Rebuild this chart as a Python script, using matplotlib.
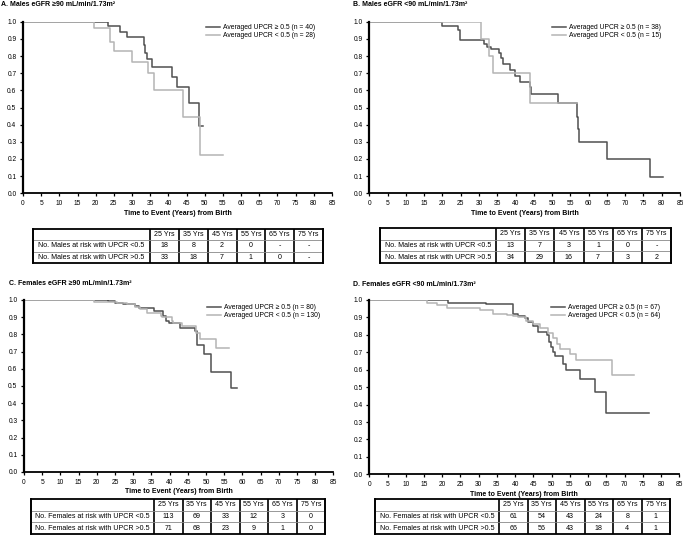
import numpy as np
import matplotlib
matplotlib.use('Agg')
import matplotlib.pyplot as plt

plt.rcParams['font.family'] = ['Liberation Sans', 'DejaVu Sans']

DARK = '#505050'
LIGHT = '#b4b4b4'

# ---- curve data (step points: time, survival) ----
a_hi_t = [0, 23.4, 26.7, 28.5, 33.3, 33.6, 34.0, 35.4, 40.9, 42.3, 45.7, 48.5, 49.6]
a_hi_s = [1.0, 0.977, 0.942, 0.909, 0.865, 0.82, 0.78, 0.734, 0.68, 0.617, 0.528, 0.394, 0.394]
a_lo_t = [0, 19.5, 23.9, 25.1, 30.0, 34.3, 36.1, 43.9, 48.7, 55.0]
a_lo_s = [1.0, 0.965, 0.88, 0.827, 0.767, 0.703, 0.60, 0.447, 0.223, 0.223]

b_hi_t = [0, 19.8, 24.4, 24.9, 31.4, 32.1, 33.2, 35.6, 36.0, 36.7, 38.5, 39.9, 41.2,
          44.0, 44.3, 51.5, 56.8, 57.2, 57.5, 65.1, 76.8, 80.3]
b_hi_s = [1.0, 0.977, 0.95, 0.895, 0.872, 0.855, 0.839, 0.82, 0.79, 0.751, 0.718, 0.683,
          0.65, 0.62, 0.577, 0.526, 0.447, 0.373, 0.297, 0.198, 0.097, 0.097]
b_lo_t = [0, 30.6, 32.8, 33.9, 44.0, 56.7]
b_lo_s = [1.0, 0.9, 0.8, 0.703, 0.524, 0.524]

c_hi_t = [0, 23.2, 25.0, 27.3, 30.5, 31.6, 35.7, 38.3, 39.0, 39.8, 42.9, 47.0, 47.6,
          49.5, 51.3, 56.8, 58.4]
c_hi_s = [1.0, 0.993, 0.985, 0.975, 0.965, 0.956, 0.935, 0.905, 0.88, 0.865, 0.837,
          0.82, 0.738, 0.687, 0.58, 0.487, 0.487]
c_lo_t = [0, 19.3, 23.8, 25.5, 28.4, 30.5, 31.9, 33.7, 37.6, 38.0, 40.6, 41.0, 43.3,
          47.3, 48.4, 52.9, 56.3]
c_lo_s = [1.0, 0.99, 0.987, 0.98, 0.975, 0.96, 0.945, 0.923, 0.905, 0.9, 0.88, 0.865,
          0.846, 0.81, 0.775, 0.719, 0.719]

d_hi_t = [0, 21.7, 31.9, 39.3, 40.9, 42.7, 43.6, 45.0, 46.3, 48.8, 49.4, 49.7, 50.5,
          50.9, 53.0, 53.9, 57.8, 61.9, 64.9, 76.8]
d_hi_s = [1.0, 0.985, 0.975, 0.918, 0.91, 0.895, 0.875, 0.85, 0.815, 0.80, 0.76, 0.73,
          0.70, 0.676, 0.63, 0.60, 0.547, 0.47, 0.353, 0.353]
d_lo_t = [0, 15.9, 18.5, 21.4, 30.3, 34.0, 37.7, 39.5, 40.9, 43.1, 45.0, 46.8, 49.1,
          50.5, 51.4, 52.3, 55.0, 56.7, 66.5, 72.7]
d_lo_s = [1.0, 0.985, 0.97, 0.956, 0.945, 0.922, 0.915, 0.91, 0.905, 0.88, 0.865, 0.84,
          0.81, 0.78, 0.75, 0.72, 0.69, 0.657, 0.567, 0.567]

# ---- at-risk tables ----
yrs = ['25 Yrs', '35 Yrs', '45 Yrs', '55 Yrs', '65 Yrs', '75 Yrs']
a_risk_lo = ['18', '8', '2', '0', '-', '-']
a_risk_hi = ['33', '18', '7', '1', '0', '-']
b_risk_lo = ['13', '7', '3', '1', '0', '-']
b_risk_hi = ['34', '29', '16', '7', '3', '2']
c_risk_lo = ['113', '69', '33', '12', '3', '0']
c_risk_hi = ['71', '68', '23', '9', '1', '0']
d_risk_lo = ['61', '54', '43', '24', '8', '1']
d_risk_hi = ['66', '56', '43', '18', '4', '1']

titles = ['A. Males eGFR \u226590 mL/min/1.73m\u00b2',
          'B. Males eGFR <90 mL/min/1.73m\u00b2',
          'C. Females eGFR \u226590 mL/min/1.73m\u00b2',
          'D. Females eGFR <90 mL/min/1.73m\u00b2']
ns = [(40, 28), (38, 15), (80, 130), (67, 64)]

W, H = 683, 543
fig = plt.figure(figsize=(W / 100, H / 100), dpi=100)


def fx(px):
    return px / W


def fy(py):
    return 1 - py / H


def km_axes(box, hi, lo, n, legpos):
    l, r, t, b = box
    ax = fig.add_axes([fx(l), fy(b), fx(r - l), (b - t) / H])
    ax.step(hi[0], hi[1], where='post', color=DARK, lw=1.1, label='Averaged UPCR \u2265 0.5 (n = %d)' % n[0])
    ax.step(lo[0], lo[1], where='post', color=LIGHT, lw=1.1, label='Averaged UPCR < 0.5 (n = %d)' % n[1])
    ax.set_xlim(0, 85)
    ax.set_ylim(0, 1.0)
    ax.set_xticks(np.arange(0, 86, 5))
    ax.set_yticks(np.arange(0, 1.01, 0.1))
    ax.set_yticklabels(['%.1f' % v for v in np.arange(0, 1.01, 0.1)])
    for s in ['top', 'right']:
        ax.spines[s].set_visible(False)
    ax.spines['left'].set_linewidth(1.6)
    ax.spines['bottom'].set_linewidth(1.3)
    ax.tick_params(labelsize=4.8, length=2.2, width=0.9, pad=2.5)
    ax.set_xlabel('Time to Event (Years) from Birth', fontsize=5, fontweight='bold', labelpad=2)
    ax.legend(loc='upper left', bbox_to_anchor=legpos, frameon=False, fontsize=4.9,
              handlelength=2.1, handletextpad=0.45, labelspacing=0.12,
              borderpad=0, borderaxespad=0)
    return ax


def risk_table(box, first_w, group, lo, hi):
    l, r, t, b = box
    tax = fig.add_axes([fx(l), fy(b), fx(r - l), (b - t) / H])
    tax.set_xticks([])
    tax.set_yticks([])
    for s in tax.spines.values():
        s.set_linewidth(1.3)
    cells = [[''] + yrs,
             ['No. %s at risk with UPCR <0.5' % group] + lo,
             ['No. %s at risk with UPCR >0.5' % group] + hi]
    fw = first_w / (r - l)
    cw = [fw] + [(1 - fw) / 6] * 6
    tb = tax.table(cellText=cells, colWidths=cw, cellLoc='center', bbox=[0, 0, 1, 1])
    tb.auto_set_font_size(False)
    tb.set_fontsize(5.1)
    for (i, j), c in tb.get_celld().items():
        c.visible_edges = 'LR'
        c.set_linewidth(1.2)
        c.set_edgecolor('#222222')
    for yy in [1 / 3, 2 / 3]:
        tax.axhline(yy, color='#888888', lw=0.6)
    return tax


km_axes((23, 332, 21.7, 193.3), (a_hi_t, a_hi_s), (a_lo_t, a_lo_s), ns[0], (0.591, 0.985))
km_axes((369.3, 680, 21.7, 193.3), (b_hi_t, b_hi_s), (b_lo_t, b_lo_s), ns[1], (0.588, 0.985))
km_axes((24, 333.3, 300, 472), (c_hi_t, c_hi_s), (c_lo_t, c_lo_s), ns[2], (0.592, 0.975))
km_axes((369.3, 679.3, 300, 474.3), (d_hi_t, d_hi_s), (d_lo_t, d_lo_s), ns[3], (0.586, 0.975))

risk_table((33, 323, 229, 263), 117, 'Males', a_risk_lo, a_risk_hi)
risk_table((380, 671, 228, 263), 116, 'Males', b_risk_lo, b_risk_hi)
risk_table((31, 325, 499, 534), 123, 'Females', c_risk_lo, c_risk_hi)
risk_table((375, 670, 499, 534), 124, 'Females', d_risk_lo, d_risk_hi)

fig.text(fx(1), fy(4), titles[0], fontsize=5, fontweight='bold', va='center', ha='left')
fig.text(fx(353), fy(4), titles[1], fontsize=5, fontweight='bold', va='center', ha='left')
fig.text(fx(9), fy(283.5), titles[2], fontsize=5, fontweight='bold', va='center', ha='left')
fig.text(fx(353), fy(284), titles[3], fontsize=5, fontweight='bold', va='center', ha='left')

fig.savefig('out.png', dpi=100)
